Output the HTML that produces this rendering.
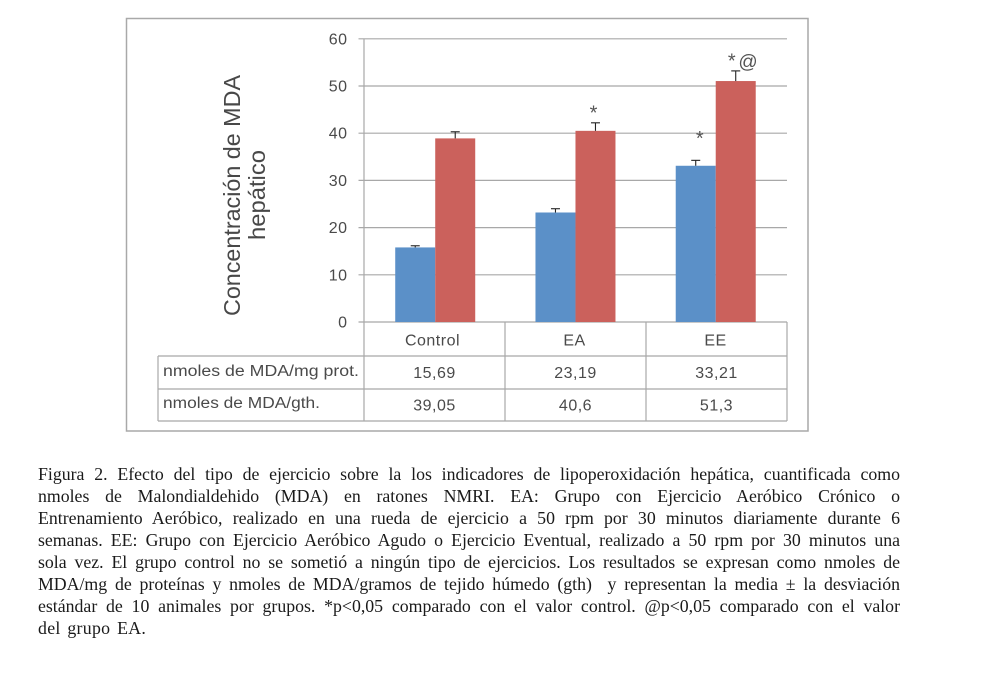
<!DOCTYPE html>
<html lang="es">
<head>
<meta charset="utf-8">
<title>Figura 2</title>
<style>
html,body{margin:0;padding:0;background:#fff;}
body{width:986px;height:677px;position:relative;overflow:hidden;}
#chart{position:absolute;left:0;top:0;filter:blur(0.35px);}
#caption{position:absolute;left:38px;top:463px;width:862px;font-family:"Liberation Serif",serif;font-size:17.8px;line-height:22px;color:#1a1a1a;}
#caption div{height:22px;white-space:nowrap;text-align:justify;text-align-last:justify;}
#caption div:last-child{text-align-last:left;letter-spacing:0.3px;word-spacing:2px;}
</style>
</head>
<body>
<svg id="chart" width="986" height="450" viewBox="0 0 986 450" xmlns="http://www.w3.org/2000/svg" font-family="'Liberation Sans',sans-serif">
  <rect x="126.5" y="18.5" width="681.5" height="412.5" fill="#fff" stroke="#a9a9a9" stroke-width="1.5"/>
  <text transform="translate(240,316) rotate(-90)" font-size="23" fill="#484848" textLength="241" lengthAdjust="spacingAndGlyphs">Concentración de MDA</text>
  <text transform="translate(265,240) rotate(-90)" font-size="23" fill="#484848" textLength="90" lengthAdjust="spacingAndGlyphs">hepático</text>
  <g id="plot"></g>
</svg>
<div id="caption">
<div>Figura 2. Efecto del tipo de ejercicio sobre la los indicadores de lipoperoxidación hepática, cuantificada como</div>
<div>nmoles de Malondialdehido (MDA) en ratones NMRI. EA: Grupo con Ejercicio Aeróbico Crónico o</div>
<div>Entrenamiento Aeróbico, realizado en una rueda de ejercicio a 50 rpm por 30 minutos diariamente durante 6</div>
<div>semanas. EE: Grupo con Ejercicio Aeróbico Agudo o Ejercicio Eventual, realizado a 50 rpm por 30 minutos una</div>
<div>sola vez. El grupo control no se sometió a ningún tipo de ejercicios. Los resultados se expresan como nmoles de</div>
<div>MDA/mg de proteínas y nmoles de MDA/gramos de tejido húmedo (gth)&nbsp; y representan la media ± la desviación</div>
<div>estándar de 10 animales por grupos. *p&lt;0,05 comparado con el valor control. @p&lt;0,05 comparado con el valor</div>
<div>del grupo EA.</div>
</div>
<script>
const categories = ['Control', 'EA', 'EE'];
const yTicks = [0, 10, 20, 30, 40, 50, 60];
const seriesProt = [15.8, 23.2, 33.1];
const seriesGth = [38.9, 40.5, 51.05];
const errorProt = [0.35, 0.8, 1.15];
const errorGth = [1.4, 1.7, 2.15];
const markersProt = ['', '', '*'];
const markersGth = ['', '*', '*'];
const tableLabels = ['nmoles de MDA/mg prot.', 'nmoles de MDA/gth.'];
const tableProt = ['15,69', '23,19', '33,21'];
const tableGth = ['39,05', '40,6', '51,3'];

const NS = 'http://www.w3.org/2000/svg';
const plot = document.getElementById('plot');
const GRID = '#a8a8a8';
const TEXT = '#4a4a4a';
const axisLeft = 364, axisRight = 787, axisBottom = 322, axisTop = 38.8;
const groupW = (axisRight - axisLeft) / categories.length;
const barW = 40;
const bandStart = 365.1, bandW = 140.25;
function yScale(v) { return axisBottom - (v / 60) * (axisBottom - axisTop); }
function bandCenter(i) { return bandStart + bandW * (i + 0.5); }
function add(tag, attrs, txt) {
  const el = document.createElementNS(NS, tag);
  for (const k in attrs) el.setAttribute(k, attrs[k]);
  if (txt !== undefined) el.textContent = txt;
  plot.appendChild(el);
  return el;
}
function seg(x1, y1, x2, y2, color, w) {
  return add('line', { x1: x1, y1: y1, x2: x2, y2: y2, stroke: color, 'stroke-width': w });
}
const labelStyle = { 'font-size': 16, fill: TEXT, 'letter-spacing': 0.5 };
function label(x, y, anchor, txt) {
  return add('text', Object.assign({ x: x, y: y, 'text-anchor': anchor }, labelStyle), txt);
}

yTicks.forEach(function (t) {
  const y = yScale(t);
  const line = seg(358.5, y, axisRight, y, GRID, 1.2);
  
  
  const tick = label(347.5, y + 5.5, 'end', String(t));
  
  
});

const yAxis = seg(axisLeft, axisTop, axisLeft, 421, GRID, 1.2);



function drawBar(i, value, err, x, color, seriesName, marker, markerDx, markerLift) {
  const top = yScale(value);
  const bar = add('rect', { x: x, y: top, width: barW, height: axisBottom - top, fill: color });
  
  
  const cx = x + barW / 2;
  const errTop = yScale(value + err);
  const stem = seg(cx, top, cx, errTop, '#222', 1.1);
  
  
  const cap = seg(cx - 4.5, errTop, cx + 4.5, errTop, '#222', 1.1);
  
  
  if (marker) {
    const m = add('text', { x: cx + markerDx, y: errTop - markerLift, 'text-anchor': 'middle', 'font-size': 20, fill: '#555' }, marker);
    
    
  }
}

categories.forEach(function (cat, i) {
  const c = bandCenter(i);
  drawBar(i, seriesProt[i], errorProt[i], c - barW, '#5b90c8', 'prot', markersProt[i], 4, 15.5);
  drawBar(i, seriesGth[i], errorGth[i], c, '#cb615c', 'gth', markersGth[i], i === 2 ? -4 : -2, 3.5);
});

const at = add('text', { x: 748, y: yScale(seriesGth[2] + errorGth[2]) - 3, 'text-anchor': 'middle', 'font-size': 19, fill: '#555' }, '@');



const rowY = [356, 389, 421];
const tableLeft = 158;
const outerTop = seg(tableLeft, rowY[0], axisRight, rowY[0], GRID, 1.2);


const mid = seg(tableLeft, rowY[1], axisRight, rowY[1], GRID, 1.2);


const bot = seg(tableLeft, rowY[2], axisRight, rowY[2], GRID, 1.2);


const leftEdge = seg(tableLeft, rowY[0], tableLeft, rowY[2], GRID, 1.2);



categories.forEach(function (cat, i) {
  const xr = axisLeft + groupW * (i + 1);
  const v = seg(xr, axisBottom, xr, rowY[2], GRID, 1.2);
  
  
  const cx = axisLeft + groupW * (i + 0.5);
  const c = label(i === 0 ? cx - 2 : cx - 1, 345.5, 'middle', cat);
  
  
  const p = label(cx, 378, 'middle', tableProt[i]);
  
  
  const g = label(cx, 410.5, 'middle', tableGth[i]);
  
  
});

const l1 = add('text', { x: 163, y: 376, 'font-size': 15.5, fill: TEXT, textLength: 196, lengthAdjust: 'spacingAndGlyphs' }, tableLabels[0]);


const l2 = add('text', { x: 163, y: 408, 'font-size': 15.5, fill: TEXT, textLength: 157, lengthAdjust: 'spacingAndGlyphs' }, tableLabels[1]);


</script>
</body>
</html>
